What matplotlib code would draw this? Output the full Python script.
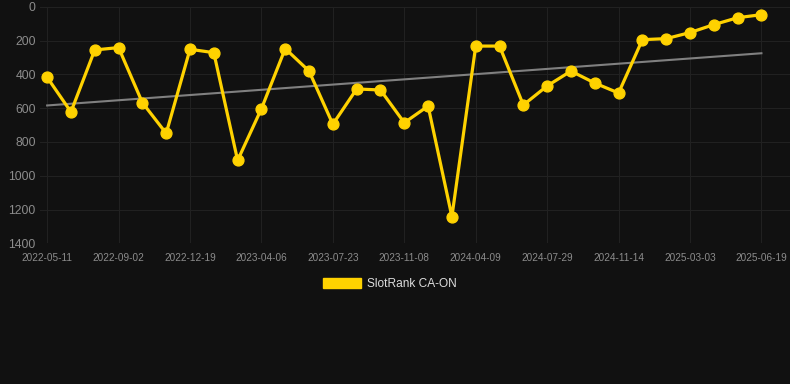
import numpy as np
import matplotlib
matplotlib.use("Agg")
import matplotlib.pyplot as plt
from matplotlib.patches import Patch

plt.rcParams['font.family'] = ['Liberation Sans', 'DejaVu Sans']

# rank values (lower is better, axis inverted)
ranks = [417, 622, 255, 241, 567, 749, 251, 271, 909, 603,
         247, 380, 695, 486, 492, 686, 587, 1242, 232, 232,
         581, 468, 380, 451, 510, 194, 188, 152, 105, 64, 46]
tick_labels = ['2022-05-11', '2022-09-02', '2022-12-19', '2023-04-06',
               '2023-07-23', '2023-11-08', '2024-04-09', '2024-07-29',
               '2024-11-14', '2025-03-03', '2025-06-19']
y_ticks = [0, 200, 400, 600, 800, 1000, 1200, 1400]

bg = '#111111'
gold = '#FFD200'

x = np.arange(len(ranks))

fig = plt.figure(figsize=(7.9, 3.84), dpi=100, facecolor=bg)
ax = fig.add_axes([40/790, 1 - 243.3/384, 750/790, (243.3 - 6.9)/384])
ax.set_facecolor(bg)

# trend line
k, b = np.polyfit(x, ranks, 1)
ax.plot(x, k*x + b, color='#808080', lw=1.5, zorder=2)

ax.plot(x, ranks, color=gold, lw=2.3, marker='o', ms=7.8, zorder=3)

ax.set_ylim(1400, 0)
ax.set_xlim(-0.3, 31.2)
ax.set_yticks(y_ticks)
ax.set_xticks(x[::3])
ax.set_xticklabels(tick_labels)
ax.grid(True, color='#212121', lw=0.8)
ax.set_axisbelow(True)
for s in ax.spines.values():
    s.set_visible(False)
ax.tick_params(axis='both', length=0, colors='#8c8c8c')
ax.tick_params(axis='y', labelsize=8.8, pad=3)
ax.tick_params(axis='x', labelsize=7.2, pad=7)

fig.legend(handles=[Patch(color=gold)], labels=['SlotRank CA-ON'],
           loc='center', bbox_to_anchor=(390/790, 1 - 284/384),
           frameon=False, fontsize=8.6, labelcolor='#dddddd',
           handlelength=3.2, handleheight=0.9, handletextpad=0.5)

fig.savefig('out.png', dpi=100, facecolor=bg)
